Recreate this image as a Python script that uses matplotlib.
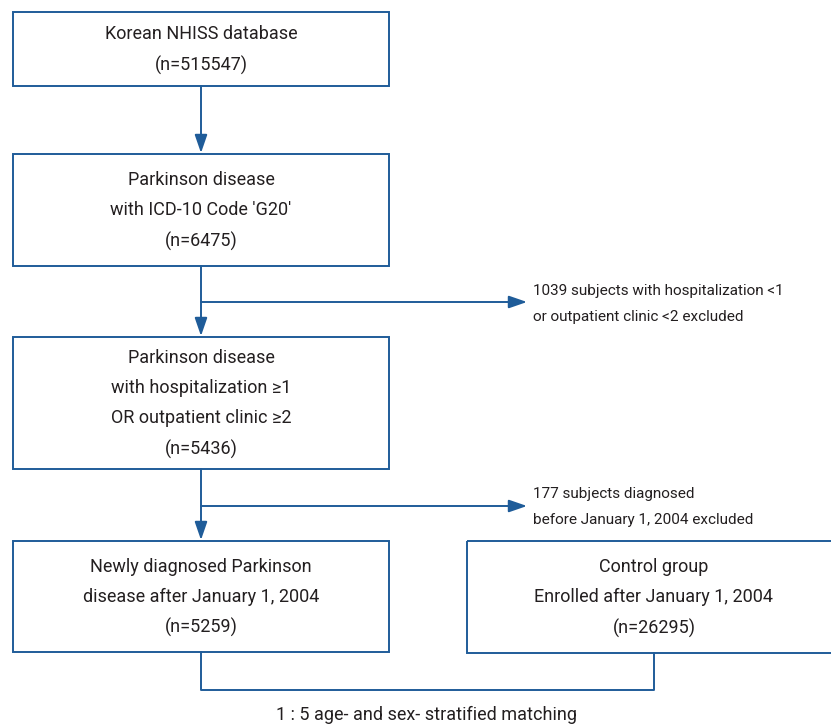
import matplotlib.pyplot as plt
from matplotlib.patches import Rectangle

plt.rcParams['font.family'] = ['Roboto', 'DejaVu Sans']

# box texts
box_texts = [
    "Korean NHISS database\n(n=515547)",
    "Parkinson disease\nwith ICD-10 Code 'G20'\n(n=6475)",
    "Parkinson disease\nwith hospitalization \u22651\nOR outpatient clinic \u22652\n(n=5436)",
    "Newly diagnosed Parkinson\ndisease after January 1, 2004\n(n=5259)",
    "Control group\nEnrolled after January 1, 2004\n(n=26295)",
]
excl_texts = [
    "1039 subjects with hospitalization <1\nor outpatient clinic <2 excluded",
    "177 subjects diagnosed\nbefore January 1, 2004 excluded",
]
match_text = "1 : 5 age- and sex- stratified matching"

# layout in pixels (x0, y0, x1, y1)
boxes = [(13, 12, 389, 86), (13, 154, 389, 266), (13, 337, 389, 469),
         (13, 541, 389, 652), (467, 541, 845, 653)]
text_cx = [201, 201, 201, 201, 654]
blue = '#1f5c99'
txtc = '#231f20'
fs = 13

fig = plt.figure(figsize=(8.31, 7.27), dpi=100)
ax = fig.add_axes([0, 0, 1, 1])
ax.set_xlim(0, 831)
ax.set_ylim(727, 0)
ax.axis('off')

for (x0, y0, x1, y1), t, tx in zip(boxes, box_texts, text_cx):
    ax.add_patch(Rectangle((x0, y0), x1 - x0, y1 - y0, fill=False, ec=blue,
                           lw=1.4, clip_on=True))
    ax.text(tx, (y0 + y1) / 2 + 1, t, ha='center', va='center',
            fontsize=fs, color=txtc, linespacing=1.85)

def arrow(x0, y0, x1, y1):
    ax.annotate('', xy=(x1, y1), xytext=(x0, y0),
                arrowprops=dict(arrowstyle='-|>,head_length=1.1,head_width=0.38',
                                color=blue, lw=1.4, shrinkA=0, shrinkB=0))

cx = 201
arrow(cx, 86, cx, 153)
arrow(cx, 266, cx, 336)
arrow(cx, 302, 527, 302)
arrow(cx, 469, cx, 540)
arrow(cx, 506, 527, 506)

ax.text(533, 304, excl_texts[0], ha='left', va='center', fontsize=11,
        color=txtc, linespacing=2.1)
ax.text(533, 507, excl_texts[1], ha='left', va='center', fontsize=11,
        color=txtc, linespacing=2.1)

# matching bracket
ax.plot([cx, cx, 654, 654], [652, 690, 690, 653], color=blue, lw=1.4)
ax.text(427, 715, match_text, ha='center', va='center', fontsize=fs, color=txtc)

fig.savefig('out.png', dpi=100)
